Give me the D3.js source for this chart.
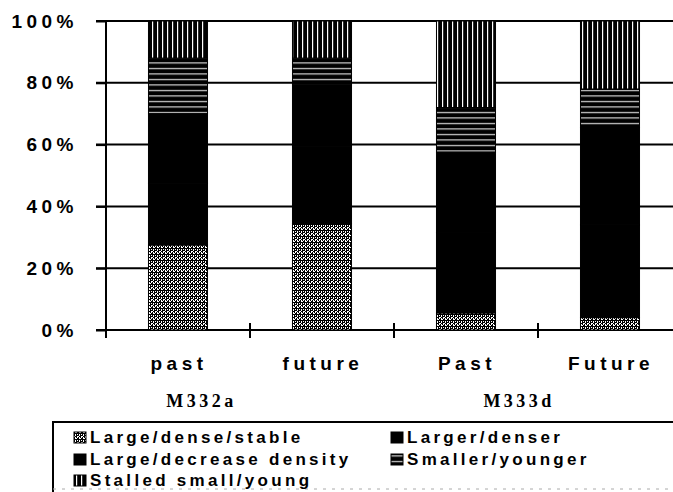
<!DOCTYPE html>
<html>
<head>
<meta charset="utf-8">
<script src="https://cdn.jsdelivr.net/npm/d3@7/dist/d3.min.js"></script>
<style>
  html, body { margin: 0; padding: 0; background: #fff; }
  svg { display: block; }
</style>
</head>
<body>
<div id="chart"></div>
<script>
const categories = ['past', 'future', 'Past', 'Future'];
const groups = ['M332a', 'M333d'];

// stacked bottom to top, percent of each bar
const largeDenseStable = [27.5, 34.5, 5.5, 4];
const largerDenser = [20, 25, 26, 30];
const largeDecreaseDensity = [22.5, 20, 26, 31.5];
const smallerYounger = [18, 8.5, 14.5, 12.5];
const stalledSmallYoung = [12, 12, 28, 22];

const seriesNames = [
  'Large/dense/stable', 'Larger/denser', 'Large/decrease density',
  'Smaller/younger', 'Stalled small/young'
];
const seriesValues = [largeDenseStable, largerDenser, largeDecreaseDensity, smallerYounger, stalledSmallYoung];
const seriesFill = ['url(#stipple)', '#000', '#000', 'url(#hstripe)', 'url(#vstripe)'];

const yTicks = [0, 20, 40, 60, 80, 100];

const W = 673, H = 492;
const svg = d3.select('#chart').append('svg')
  .attr('width', W)
  .attr('height', H);

// fill patterns
const defs = svg.append('defs');
const stip = defs.append('pattern').attr('id', 'stipple')
  .attr('patternUnits', 'userSpaceOnUse').attr('width', 4).attr('height', 6);
stip.append('rect').attr('width', 4).attr('height', 6).attr('fill', '#fff');
[[0, 0, 1, 5], [2, 2, 1, 4], [2, 0, 1, 1], [1, 5, 1, 1], [3, 1, 1, 2], [3, 4, 1, 1], [1, 2, 1, 1]].forEach(([x, y, w, h]) => {
  stip.append('rect').attr('x', x).attr('y', y).attr('width', w).attr('height', h).attr('fill', '#000');
});
const hs = defs.append('pattern').attr('id', 'hstripe')
  .attr('patternUnits', 'userSpaceOnUse').attr('width', 10).attr('height', 5.5);
hs.append('rect').attr('width', 10).attr('height', 5.5).attr('fill', '#000');
hs.append('rect').attr('y', 2).attr('width', 10).attr('height', 1).attr('fill', '#fff');
const vs = defs.append('pattern').attr('id', 'vstripe')
  .attr('patternUnits', 'userSpaceOnUse').attr('width', 5).attr('height', 10);
vs.append('rect').attr('width', 5).attr('height', 10).attr('fill', '#000');
vs.append('rect').attr('x', 2).attr('width', 1.2).attr('height', 10).attr('fill', '#fff');

const x = d3.scaleBand()
  .domain(categories)
  .range([106, 682])
  .paddingInner(0.59)
  .paddingOuter(0.295);

const y = d3.scaleLinear()
  .domain([0, 100])
  .range([330, 21]);

// gridlines
svg.append('g')
  .selectAll('line')
  .data(yTicks)
  .join('line')
  .attr('x1', 96)
  .attr('x2', W + 5)
  .attr('y1', d => y(d))
  .attr('y2', d => y(d))
  .attr('stroke', '#000')
  .attr('stroke-width', 2);

// stacked bars
const stackData = categories.map((c, i) => {
  const row = { cat: c };
  seriesNames.forEach((s, k) => { row[s] = seriesValues[k][i]; });
  return row;
});
const stacked = d3.stack().keys(seriesNames)(stackData);

svg.append('g')
  .selectAll('g')
  .data(stacked)
  .join('g')
  .attr('fill', (d, k) => seriesFill[k])
  .selectAll('rect')
  .data(d => d)
  .join('rect')
  .attr('x', d => x(d.data.cat))
  .attr('y', d => y(d[1]))
  .attr('width', x.bandwidth())
  .attr('height', d => y(d[0]) - y(d[1]))
  .attr('stroke', '#000')
  .attr('stroke-width', 1);

// left axis
const yAxis = svg.append('g')
  .attr('transform', 'translate(106,0)')
  .call(d3.axisLeft(y).tickValues(yTicks).tickFormat(d => d + '%').tickSize(10).tickPadding(18));
yAxis.select('.domain').remove();
yAxis.selectAll('line').attr('stroke-width', 2);
yAxis.selectAll('text')
  .attr('font-family', 'Liberation Sans, Arial, sans-serif')
  .attr('font-size', 19)
  .attr('font-weight', 'bold')
  .attr('letter-spacing', 4.5)
  .attr('fill', '#000');

svg.append('line')
  .attr('x1', 106).attr('x2', 106)
  .attr('y1', y(100)).attr('y2', 338)
  .attr('stroke', '#000').attr('stroke-width', 2);

// x ticks crossing the baseline at band boundaries
svg.append('g')
  .selectAll('line')
  .data(categories.slice(1))
  .join('line')
  .attr('x1', d => x(d) - x.step() * x.paddingInner() / 2)
  .attr('x2', d => x(d) - x.step() * x.paddingInner() / 2)
  .attr('y1', 323)
  .attr('y2', 338)
  .attr('stroke', '#000')
  .attr('stroke-width', 2);

// category labels
svg.append('g')
  .selectAll('text')
  .data(categories)
  .join('text')
  .attr('x', d => x(d) + x.bandwidth() / 2 + 1)
  .attr('y', 370)
  .attr('text-anchor', 'middle')
  .attr('font-family', 'Liberation Sans, Arial, sans-serif')
  .attr('font-size', 19)
  .attr('font-weight', 'bold')
  .attr('letter-spacing', 4.5)
  .text(d => d);

// group labels
const groupAnchor = [[categories[0], 0.9], [categories[2], 1.4]];
svg.append('g')
  .selectAll('text')
  .data(groups)
  .join('text')
  .attr('x', (d, i) => x(groupAnchor[i][0]) + x.bandwidth() * groupAnchor[i][1])
  .attr('y', 407)
  .attr('text-anchor', 'middle')
  .attr('font-family', 'Liberation Serif, Times New Roman, serif')
  .attr('font-size', 18)
  .attr('font-weight', 'bold')
  .attr('letter-spacing', 3.5)
  .text(d => d);

// legend (box runs off the right and bottom edges)
const legend = svg.append('g');
legend.append('path')
  .attr('d', 'M53,492 V422 H680')
  .attr('fill', 'none').attr('stroke', '#000').attr('stroke-width', 2);
legend.append('line')
  .attr('x1', 53).attr('x2', 680).attr('y1', 489).attr('y2', 489)
  .attr('stroke', '#aaa').attr('stroke-width', 1).attr('stroke-dasharray', '3,6');

const legPos = [[74, 437], [391, 437], [74, 459], [391, 459], [74, 480]];
const item = legend.selectAll('g.item')
  .data(seriesNames)
  .join('g')
  .attr('class', 'item')
  .attr('transform', (d, i) => `translate(${legPos[i][0]},${legPos[i][1]})`);
item.append('rect')
  .attr('x', 0).attr('y', -5)
  .attr('width', 12).attr('height', 11)
  .attr('fill', (d, i) => seriesFill[i])
  .attr('stroke', '#000').attr('stroke-width', 1);
item.append('text')
  .attr('x', 16)
  .attr('dy', '0.36em')
  .attr('font-family', 'Liberation Sans, Arial, sans-serif')
  .attr('font-size', 17)
  .attr('font-weight', 'bold')
  .attr('letter-spacing', 3.3)
  .text(d => d);
</script>
</body>
</html>
